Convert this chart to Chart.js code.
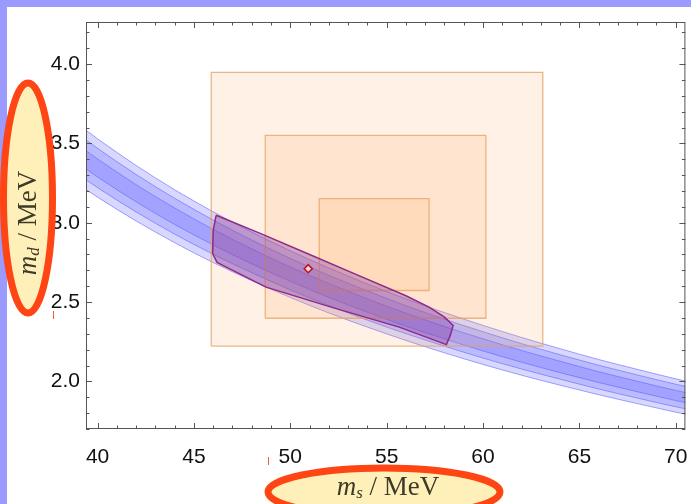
<!DOCTYPE html>
<html>
<head>
<meta charset="utf-8">
<script src="https://cdn.jsdelivr.net/npm/chart.js@4.4.0/dist/chart.umd.min.js"></script>
<style>
  html, body { margin: 0; padding: 0; }
  body { width: 691px; height: 504px; background: #9b9bff; position: relative; overflow: hidden; }
  #sheet { position: absolute; left: 7px; top: 7px; right: 0; bottom: 0; background: #fff; }
  #wrap { position: absolute; left: 0; top: 0; width: 691px; height: 504px; }
</style>
</head>
<body>
<div id="sheet"></div>
<div id="wrap"><canvas id="massChart"></canvas></div>
<script>
// strange quark mass (MeV) sampled along the ratio band
const bandMs = [39, 40, 42, 44, 46, 48, 50, 52, 54, 56, 58, 60, 62, 64, 66, 68, 70, 71];
const outerHi = [3.620, 3.529, 3.361, 3.208, 3.069, 2.941, 2.823, 2.715, 2.614, 2.520, 2.434, 2.353, 2.277, 2.206, 2.138, 2.076, 2.016, 1.989];
const outerLo = [3.242, 3.161, 3.011, 2.874, 2.749, 2.635, 2.529, 2.431, 2.342, 2.258, 2.180, 2.107, 2.039, 1.976, 1.916, 1.860, 1.806, 1.781];
const midHi = [3.558, 3.469, 3.304, 3.154, 3.017, 2.891, 2.775, 2.668, 2.570, 2.477, 2.392, 2.313, 2.238, 2.168, 2.102, 2.041, 1.982, 1.955];
const midLo = [3.304, 3.221, 3.068, 2.928, 2.801, 2.685, 2.577, 2.478, 2.386, 2.301, 2.222, 2.147, 2.078, 2.014, 1.952, 1.895, 1.840, 1.815];
const innerHi = [3.489, 3.402, 3.240, 3.093, 2.958, 2.835, 2.721, 2.617, 2.520, 2.430, 2.346, 2.268, 2.195, 2.127, 2.061, 2.001, 1.943, 1.917];
const innerLo = [3.373, 3.288, 3.132, 2.989, 2.860, 2.741, 2.631, 2.529, 2.436, 2.348, 2.268, 2.192, 2.121, 2.055, 1.993, 1.935, 1.879, 1.853];

// nested m_s / m_d ranges (outer, middle, inner)
const boxMs = [[45.9, 63.1], [48.7, 60.15], [51.5, 57.2]];
const boxMd = [[2.222, 3.948], [2.398, 3.550], [2.573, 3.152]];

// combined fit region and its best point
const regionMs = [46.15, 48.5, 51.0, 53.5, 56.0, 57.2, 58.0, 58.45, 58.3, 58.1, 55.65, 52.2, 48.74, 46.6, 46.2, 45.97, 46.0, 46.15];
const regionMd = [3.047, 2.930, 2.800, 2.670, 2.540, 2.468, 2.405, 2.352, 2.290, 2.232, 2.342, 2.465, 2.594, 2.725, 2.750, 2.805, 2.950, 3.047];
const bestMs = [50.93];
const bestMd = [2.71];

const xTicks = [40, 45, 50, 55, 60, 65, 70];
const yTicks = [2.0, 2.5, 3.0, 3.5, 4.0];

const pts = (xs, ys) => xs.map((x, i) => ({ x: x, y: ys[i] }));

function bandEdge(ys, fill) {
  return {
    data: pts(bandMs, ys),
    showLine: true,
    fill: fill,
    backgroundColor: 'rgba(90, 90, 255, 0.24)',
    borderColor: 'rgba(90, 90, 255, 0.55)',
    borderWidth: 1,
    pointRadius: 0,
    cubicInterpolationMode: 'monotone',
    order: 3
  };
}

function box(i) {
  const [x0, x1] = boxMs[i];
  const [y0, y1] = boxMd[i];
  return {
    data: pts([x0, x1, x1, x0, x0], [y0, y0, y1, y1, y0]),
    showLine: true,
    fill: 'shape',
    backgroundColor: 'rgba(255, 160, 80, 0.15)',
    borderColor: 'rgba(225, 160, 100, 0.75)',
    borderWidth: 1.3,
    pointRadius: 0,
    tension: 0,
    order: 2
  };
}

// frame with inward major/minor ticks on all four sides
const frameTicks = {
  id: 'frameTicks',
  afterDraw(chart) {
    const { ctx, chartArea: a, scales: { x, y } } = chart;
    ctx.save();
    ctx.strokeStyle = '#555';
    ctx.lineWidth = 1;
    ctx.strokeRect(a.left + 0.5, a.top + 0.5, a.right - a.left - 1, a.bottom - a.top - 1);
    ctx.beginPath();
    for (let v = 40; v <= 70; v++) {
      const px = Math.round(x.getPixelForValue(v)) + 0.5;
      const len = v % 5 === 0 ? 6 : 3.5;
      ctx.moveTo(px, a.bottom); ctx.lineTo(px, a.bottom - len);
      ctx.moveTo(px, a.top); ctx.lineTo(px, a.top + len);
    }
    for (let k = 17; k <= 42; k++) {
      const py = Math.round(y.getPixelForValue(k / 10)) + 0.5;
      const len = k % 5 === 0 ? 6 : 3.5;
      ctx.moveTo(a.left, py); ctx.lineTo(a.left + len, py);
      ctx.moveTo(a.right, py); ctx.lineTo(a.right - len, py);
    }
    ctx.stroke();
    ctx.restore();
  }
};

function massLabel(ctx, sub, cx, cy) {
  const big = '27px "Liberation Serif", "Times New Roman", serif';
  const small = 'italic 17px "Liberation Serif", serif';
  ctx.font = 'italic ' + big;
  const wm = ctx.measureText('m').width;
  ctx.font = small;
  const ws = ctx.measureText(sub).width;
  ctx.font = big;
  const wr = ctx.measureText(' / MeV').width;
  let x = cx - (wm + ws + wr) / 2;
  ctx.textBaseline = 'middle';
  ctx.textAlign = 'left';
  ctx.fillStyle = '#3d3a28';
  ctx.font = 'italic ' + big;
  ctx.fillText('m', x, cy);
  x += wm;
  ctx.font = small;
  ctx.fillText(sub, x, cy + 6);
  x += ws;
  ctx.font = big;
  ctx.fillText(' / MeV', x, cy);
}

// circled axis titles
const axisNotes = {
  id: 'axisNotes',
  afterDraw(chart) {
    const ctx = chart.ctx;
    ctx.save();
    ctx.lineWidth = 7;
    ctx.strokeStyle = '#ff4513';
    ctx.fillStyle = 'rgba(255, 228, 130, 0.55)';
    ctx.beginPath();
    ctx.ellipse(28, 198, 24.5, 115, 0, 0, Math.PI * 2);
    ctx.fill();
    ctx.stroke();
    ctx.beginPath();
    ctx.ellipse(384, 492, 116, 24, 0, 0, Math.PI * 2);
    ctx.fill();
    ctx.stroke();

    massLabel(ctx, 's', 388, 488);
    ctx.save();
    ctx.translate(29, 223);
    ctx.rotate(-Math.PI / 2);
    massLabel(ctx, 'd', 0, 0);
    ctx.restore();

    ctx.strokeStyle = '#ff5a3a';
    ctx.lineWidth = 1;
    ctx.beginPath();
    ctx.moveTo(268.5, 457); ctx.lineTo(268.5, 465);
    ctx.moveTo(53.5, 311); ctx.lineTo(53.5, 319);
    ctx.stroke();
    ctx.restore();
  }
};

new Chart(document.getElementById('massChart'), {
  type: 'scatter',
  data: {
    datasets: [
      {
        data: pts(bestMs, bestMd),
        pointStyle: 'rectRot',
        pointRadius: 4,
        borderColor: '#c0141e',
        borderWidth: 1.6,
        backgroundColor: '#f6dede',
        order: 0
      },
      {
        data: pts(regionMs, regionMd),
        showLine: true,
        fill: 'shape',
        backgroundColor: 'rgba(125, 45, 165, 0.34)',
        borderColor: '#8e2a8e',
        borderWidth: 1.5,
        pointRadius: 0,
        tension: 0,
        order: 1
      },
      box(0), box(1), box(2),
      bandEdge(outerHi, '+1'), bandEdge(outerLo, false),
      bandEdge(midHi, '+1'), bandEdge(midLo, false),
      bandEdge(innerHi, '+1'), bandEdge(innerLo, false)
    ]
  },
  options: {
    responsive: true,
    maintainAspectRatio: false,
    animation: false,
    layout: { padding: { left: 0, top: 22, right: 4, bottom: 0 } },
    plugins: { legend: { display: false }, tooltip: { enabled: false } },
    scales: {
      x: {
        type: 'linear',
        min: 39.4,
        max: 70.5,
        grid: { display: false, drawTicks: false },
        border: { display: false },
        afterBuildTicks: (s) => { s.ticks = xTicks.map(v => ({ value: v })); },
        afterFit: (s) => { s.height = 75; s.paddingLeft = 0; s.paddingRight = 0; },
        ticks: {
          padding: 16,
          color: '#111',
          font: { family: '"Liberation Sans", Arial, sans-serif', size: 21 },
          callback: (v) => String(v)
        }
      },
      y: {
        type: 'linear',
        min: 1.70,
        max: 4.265,
        grid: { display: false, drawTicks: false },
        border: { display: false },
        afterBuildTicks: (s) => { s.ticks = yTicks.map(v => ({ value: v })); },
        afterFit: (s) => { s.width = 86; s.paddingTop = 0; s.paddingBottom = 0; },
        ticks: {
          padding: 6,
          color: '#111',
          font: { family: '"Liberation Sans", Arial, sans-serif', size: 21 },
          callback: (v) => Number(v).toFixed(1)
        }
      }
    }
  },
  plugins: [frameTicks, axisNotes]
});
</script>
</body>
</html>
